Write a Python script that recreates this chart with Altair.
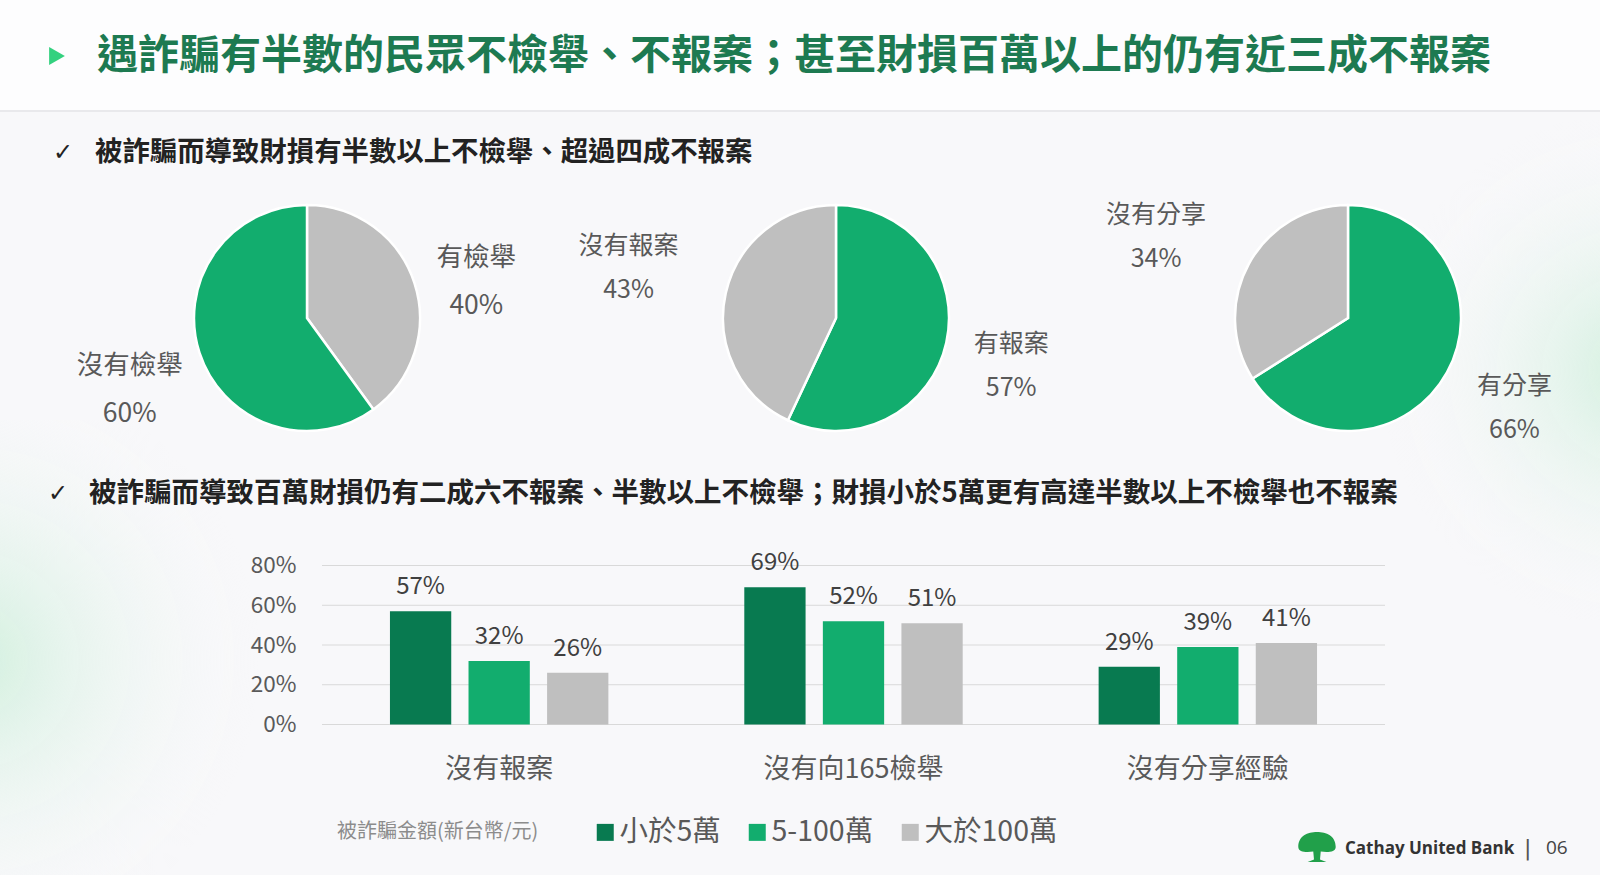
import altair as alt
import pandas as pd

# ---------------- data ----------------
pie1_labels = ["有檢舉", "沒有檢舉"]
pie1_values = [40, 60]
pie2_labels = ["有報案", "沒有報案"]
pie2_values = [57, 43]
pie3_labels = ["有分享", "沒有分享"]
pie3_values = [66, 34]

categories = ["沒有報案", "沒有向165檢舉", "沒有分享經驗"]
tiers = ["小於5萬", "5-100萬", "大於100萬"]
vals_lt5 = [57, 69, 29]
vals_5_100 = [32, 52, 39]
vals_gt100 = [26, 51, 41]
y_ticks = [0, 20, 40, 60, 80]

title_text = "遇詐騙有半數的民眾不檢舉、不報案；甚至財損百萬以上的仍有近三成不報案"
sub1_text = "被詐騙而導致財損有半數以上不檢舉、超過四成不報案"
sub2_text = "被詐騙而導致百萬財損仍有二成六不報案、半數以上不檢舉；財損小於5萬更有高達半數以上不檢舉也不報案"
legend_title = "被詐騙金額(新台幣/元)"

# ---------------- style ----------------
FONT = "Noto Sans CJK TC"
GREEN = "#12ad6e"
DARK = "#087a50"
GRAY = "#bfbfbf"
TXT = "#595959"

W, H = 1600, 875


def txt(s, x, y, **kw):
    base = dict(align="left", baseline="middle", font=FONT)
    base.update(kw)
    return alt.Chart(alt.Data(values=[{"t": s}])).mark_text(**base).encode(
        x=alt.value(x), y=alt.value(y), text="t:N"
    )


# background glows
def glow(x0, x1, y0, y1, col):
    return alt.Chart(alt.Data(values=[{}])).mark_rect(
        fill=alt.RadialGradient(
            gradient="radial",
            stops=[alt.GradientStop(color=col, offset=0),
                   alt.GradientStop(color="rgba(248,248,250,0)", offset=1)],
            x1=0.5, y1=0.5, r1=0, x2=0.5, y2=0.5, r2=0.5,
        )
    ).encode(x=alt.value(x0), x2=alt.value(x1), y=alt.value(y0), y2=alt.value(y1))


glow_left = glow(-320, 260, 420, 900, "rgba(200,238,215,0.8)")
glow_right = glow(1380, 1900, 120, 620, "rgba(200,238,215,0.8)")

header_bg = alt.Chart(alt.Data(values=[{}])).mark_rect(color="#fdfdfe").encode(
    x=alt.value(0), x2=alt.value(W), y=alt.value(0), y2=alt.value(110)
)
header_line = alt.Chart(alt.Data(values=[{}])).mark_rule(color="#e9e9ec", strokeWidth=2).encode(
    x=alt.value(0), x2=alt.value(W), y=alt.value(111)
)

arrow = alt.Chart(alt.Data(values=[{}])).mark_point(
    shape="triangle-right", filled=True, size=330, color="#33d17f", opacity=1
).encode(x=alt.value(57), y=alt.value(56))

title = txt(title_text, 97, 57, fontSize=41, fontWeight="bold", color="#1d7a51")
check1 = txt("✓", 53, 153, fontSize=24, color="#222222", font="DejaVu Sans")
sub1 = txt(sub1_text, 95, 153, fontSize=27.4, fontWeight="bold", color="#222222")
check2 = txt("✓", 48, 494, fontSize=24, color="#222222", font="DejaVu Sans")
sub2 = txt(sub2_text, 89, 494, fontSize=27.5, fontWeight="bold", color="#222222")


# ---------------- pies ----------------
def pie(labels, values, cx, cy, colors, label_pos, fsize, lh):
    df = pd.DataFrame({"label": labels, "v": values, "i": list(range(len(labels)))})
    df["lab"] = [f"{l}\n{v}%" for l, v in zip(labels, values)]
    arcs = alt.Chart(df).mark_arc(radius=113, stroke="white", strokeWidth=2.5).encode(
        theta=alt.Theta("v:Q", stack=True),
        order=alt.Order("i:Q"),
        x=alt.value(cx),
        y=alt.value(cy),
        color=alt.Color("label:N", scale=alt.Scale(domain=labels, range=colors), legend=None),
    )
    layers = [arcs]
    total = sum(values)
    for k, (r, ddy) in enumerate(label_pos):
        lab = alt.Chart(df).transform_window(
            cum="sum(v)", sort=[alt.SortField("i")]
        ).transform_calculate(
            mid="datum.cum - datum.v / 2"
        ).transform_filter(
            alt.datum.i == k
        ).mark_text(
            radius=r, fontSize=fsize, color=TXT, font=FONT, lineBreak="\n",
            lineHeight=lh, align="center", baseline="middle", dy=ddy
        ).encode(
            theta=alt.Theta("mid:Q", scale=alt.Scale(domain=[0, total]), stack=None),
            x=alt.value(cx),
            y=alt.value(cy),
            text="lab:N",
        )
        layers.append(lab)
    return alt.layer(*layers)


p1 = pie(pie1_labels, pie1_values, 307, 318, [GRAY, GREEN], [(178, -4.8), (186.5, -9.8)], 26.5, 48)
p2 = pie(pie2_labels, pie2_values, 836, 318, [GREEN, GRAY], [(179.5, -12.9), (212.5, -25.8)], 25, 44)
p3 = pie(pie3_labels, pie3_values, 1348, 318, [GREEN, GRAY], [(190, -23.8), (219, 2.7)], 25, 44)

# ---------------- bars ----------------
rows = []
for t, vals in zip(tiers, [vals_lt5, vals_5_100, vals_gt100]):
    for c, v in zip(categories, vals):
        rows.append({"cat": c, "tier": t, "v": v, "lab": f"{v}%"})
bar_df = pd.DataFrame(rows)

X0, X1 = 322, 1385
Y0, Y80 = 724.5, 565.5

xs = alt.Scale(domain=categories, range=[X0, X1], paddingInner=0, paddingOuter=0)
ys = alt.Scale(domain=[0, 80], range=[Y0, Y80], nice=False, zero=True)

grid = alt.Chart(pd.DataFrame({"y": y_ticks})).mark_rule(color="#d9d9d9", strokeWidth=1.2).encode(
    y=alt.Y("y:Q", scale=ys, axis=alt.Axis(
        values=y_ticks, labelExpr="datum.value + '%'", orient="left", offset=-322,
        domain=False, ticks=False, grid=False, labelPadding=26, labelFontSize=22.5,
        labelColor=TXT, labelFont=FONT, title=None)),
    x=alt.value(X0), x2=alt.value(X1),
)

bar_base = alt.Chart(bar_df).encode(
    x=alt.X("cat:N", scale=xs, axis=None),
    xOffset=alt.XOffset("tier:N", sort=tiers,
                        scale=alt.Scale(domain=tiers, paddingInner=0.22, paddingOuter=0.865)),
    y=alt.Y("v:Q", scale=ys),
)
bars = bar_base.mark_bar().encode(
    color=alt.Color("tier:N", sort=tiers,
                    scale=alt.Scale(domain=tiers, range=[DARK, GREEN, GRAY]),
                    legend=alt.Legend(
                        title=legend_title, orient="none", legendX=337, legendY=818,
                        direction="horizontal", titleOrient="left", titleFontSize=20,
                        titleColor="#8c8c8c", titleFontWeight="normal", titleFont=FONT,
                        titlePadding=52, titleBaseline="middle", titleLimit=400,
                        labelFontSize=28.5, labelColor=TXT, labelFont=FONT, labelOffset=0,
                        labelLimit=300,
                        symbolType="square", symbolSize=289, symbolStrokeWidth=0,
                        columnPadding=22,
                    ))
)
bar_labels = bar_base.mark_text(
    baseline="bottom", dy=-12, fontSize=24, color="#404040", font=FONT
).encode(text="lab:N")

cat_labels = alt.Chart(pd.DataFrame({"cat": categories})).mark_text(
    fontSize=27, color=TXT, font=FONT, baseline="middle"
).encode(x=alt.X("cat:N", scale=xs, axis=None), y=alt.value(770), text="cat:N")

# ---------------- footer ----------------
tree_path = ("M-1,0.05 C-1,-0.55 -0.5,-0.75 0,-0.75 C0.5,-0.75 1,-0.55 1,0.05 "
             "C1,0.32 0.6,0.36 0.2,0.3 L0.16,0.72 L0.5,0.85 L-0.5,0.85 L-0.16,0.72 "
             "L-0.2,0.3 C-0.6,0.36 -1,0.32 -1,0.05 Z")
logo = alt.Chart(alt.Data(values=[{}])).mark_point(
    shape=tree_path, filled=True, size=1400, color="#21a04a", opacity=1, strokeWidth=0
).encode(x=alt.value(1317), y=alt.value(846))
brand = txt("Cathay United Bank", 1345, 849, fontSize=17, fontWeight="bold",
            color="#333333", font="Open Sans")
sep = txt("|", 1524, 848, fontSize=22, color="#555555", font="DejaVu Sans")
page = txt("06", 1546, 848, fontSize=19, color="#444444", font="Open Sans")

chart = alt.layer(
    glow_left, glow_right, header_bg, header_line, arrow, title,
    check1, sub1, check2, sub2,
    p1, p2, p3,
    grid, bars, bar_labels, cat_labels,
    logo, brand, sep, page,
).resolve_scale(color="independent", theta="independent").properties(
    width=W, height=H, padding=0, autosize="none", background="#f8f8fa"
).configure_view(stroke=None)

chart.save("out.html", embed_options={"renderer": "svg", "actions": False})
